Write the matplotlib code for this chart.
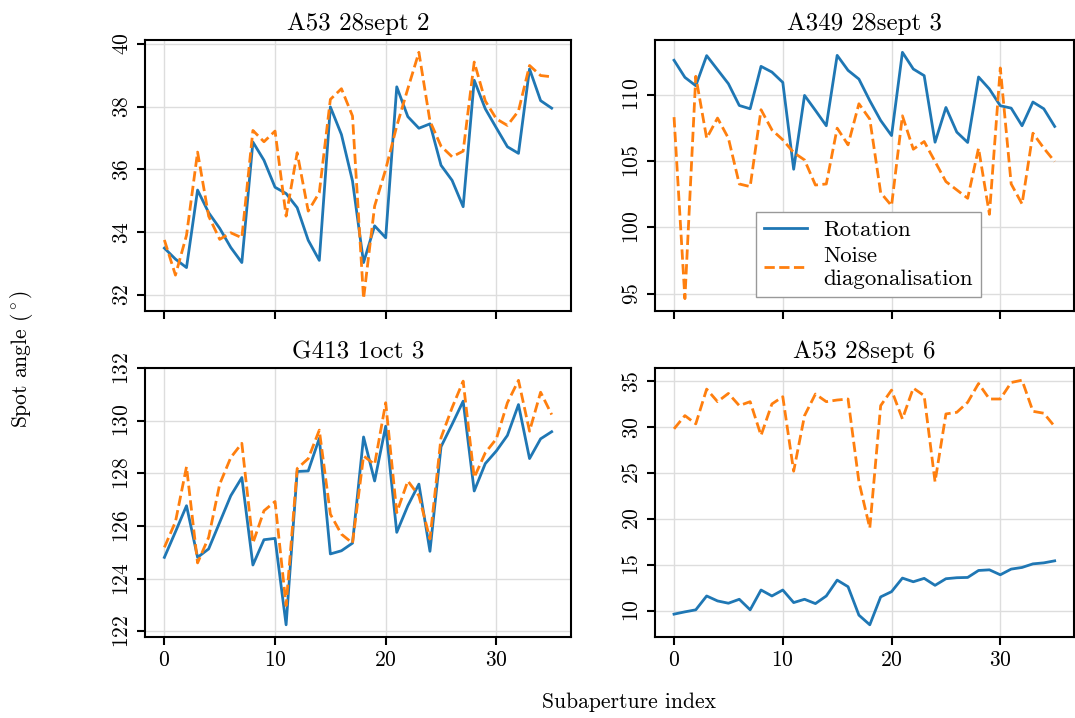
import numpy as np
import matplotlib
matplotlib.use("Agg")
import matplotlib.pyplot as plt

titles = ["A53 28sept 2", "A349 28sept 3", "G413 1oct 3", "A53 28sept 6"]

rot_a53_2 = [33.49, 33.14, 32.87, 35.34, 34.62, 34.12, 33.51, 33.03, 36.87, 36.29,
             35.43, 35.23, 34.78, 33.74, 33.10, 37.99, 37.11, 35.63, 33.03, 34.20,
             33.82, 38.63, 37.68, 37.31, 37.45, 36.13, 35.65, 34.81, 38.84, 37.93,
             37.32, 36.72, 36.51, 39.20, 38.19, 37.95]
noise_a53_2 = [33.75, 32.63, 33.90, 36.55, 34.51, 33.77, 33.98, 33.82, 37.24, 36.88,
               37.22, 34.51, 36.53, 34.67, 35.26, 38.23, 38.57, 37.70, 31.88, 34.83,
               36.00, 37.38, 38.57, 39.73, 37.54, 36.74, 36.40, 36.58, 39.42, 38.18,
               37.61, 37.40, 37.86, 39.31, 38.99, 38.95]

rot_a349_3 = [112.60, 111.31, 110.68, 112.95, 111.89, 110.83, 109.19, 108.94, 112.14, 111.71,
              110.93, 104.38, 109.95, 108.82, 107.66, 112.97, 111.84, 111.18, 109.55, 108.06,
              106.92, 113.20, 111.94, 111.44, 106.42, 109.04, 107.18, 106.40, 111.34, 110.43,
              109.17, 108.99, 107.66, 109.45, 108.94, 107.61]
noise_a349_3 = [108.31, 94.62, 111.39, 106.72, 108.24, 106.72, 103.27, 103.07, 108.87, 107.35,
                106.60, 105.64, 105.08, 103.19, 103.27, 107.48, 106.22, 109.32, 108.16, 102.61,
                101.63, 108.41, 105.89, 106.47, 104.96, 103.45, 102.82, 102.19, 105.97, 100.98,
                112.02, 103.27, 101.76, 107.10, 105.97, 104.96]

rot_g413_3 = [124.81, 125.78, 126.77, 124.81, 125.13, 126.14, 127.15, 127.84, 124.52, 125.48,
              125.53, 122.25, 128.07, 128.09, 129.33, 124.94, 125.06, 125.35, 129.38, 127.71,
              129.79, 125.76, 126.77, 127.59, 125.04, 129.01, 129.86, 130.74, 127.33, 128.37,
              128.85, 129.44, 130.61, 128.56, 129.31, 129.58]
noise_g413_3 = [125.19, 126.16, 128.25, 124.60, 125.57, 127.59, 128.60, 129.14, 125.35, 126.58,
                126.93, 122.98, 128.18, 128.56, 129.64, 126.45, 125.69, 125.35, 128.66, 128.34,
                130.68, 126.51, 127.71, 127.15, 125.51, 129.35, 130.49, 131.50, 127.84, 128.78,
                129.31, 130.68, 131.53, 129.60, 131.08, 130.23]

rot_a53_6 = [9.64, 9.89, 10.11, 11.62, 11.08, 10.83, 11.26, 10.11, 12.27, 11.62,
             12.27, 10.90, 11.26, 10.79, 11.62, 13.35, 12.63, 9.53, 8.48, 11.52,
             12.09, 13.57, 13.17, 13.54, 12.78, 13.50, 13.61, 13.64, 14.40, 14.47,
             13.93, 14.55, 14.73, 15.12, 15.23, 15.45]
noise_a53_6 = [29.84, 31.28, 30.38, 34.17, 32.80, 33.70, 32.37, 32.80, 29.12, 32.55,
               33.34, 25.22, 31.28, 33.63, 32.80, 32.98, 33.09, 24.07, 19.02, 32.37,
               34.06, 30.92, 34.28, 33.45, 24.07, 31.46, 31.64, 32.73, 34.78, 33.09,
               33.09, 34.89, 35.14, 31.75, 31.54, 30.09]

rotation = [rot_a53_2, rot_a349_3, rot_g413_3, rot_a53_6]
noise = [noise_a53_2, noise_a349_3, noise_g413_3, noise_a53_6]
yticks = [None, None, [122, 124, 126, 128, 130, 132], [10, 15, 20, 25, 30, 35]]

plt.rcParams['font.family'] = ['cmr10', 'DejaVu Serif']
plt.rcParams['mathtext.fontset'] = 'cm'
plt.rcParams['axes.formatter.use_mathtext'] = True

fig = plt.figure(figsize=(10.75, 7.18), dpi=100)
boxes = [
    [0.1349, 0.5669, 0.3963, 0.3774],
    [0.6093, 0.5669, 0.3895, 0.3774],
    [0.1349, 0.1128, 0.3963, 0.3747],
    [0.6093, 0.1128, 0.3895, 0.3747],
]

axes = []
for k, box in enumerate(boxes):
    ax = fig.add_axes(box)
    x = np.arange(len(rotation[k]))
    ax.plot(x, rotation[k], color='#1f77b4', lw=2, label='Rotation')
    ax.plot(x, noise[k], color='#ff7f0e', lw=2, ls='--', label='Noise\ndiagonalisation')
    ax.set_title(titles[k], fontsize=18, pad=7)
    ax.grid(True, color='#dddddd', lw=1)
    ax.set_axisbelow(True)
    for s in ax.spines.values():
        s.set_linewidth(1.5)
    ax.set_xticks([0, 10, 20, 30])
    if yticks[k] is not None:
        ax.set_yticks(yticks[k])
    ax.tick_params(axis='both', length=6, width=1.5, labelsize=15.5)
    ax.tick_params(axis='y', labelrotation=90)
    for lab in ax.get_yticklabels():
        lab.set_va('center')
    if k < 2:
        ax.tick_params(axis='x', labelbottom=False)
    axes.append(ax)

leg = axes[1].legend(loc='lower center', bbox_to_anchor=(0.51, 0.01), fontsize=16.5,
                     fancybox=False, edgecolor='#999999', framealpha=1,
                     handlelength=1.9, borderpad=0.35, labelspacing=0.3,
                     handletextpad=0.7)
leg.get_frame().set_linewidth(1)

fig.text(0.02, 0.5, 'Spot angle ($^\\circ$)', rotation=90, va='center', ha='center', fontsize=15.5)
fig.text(0.585, 0.022, 'Subaperture index', ha='center', va='center', fontsize=15.5)

fig.savefig('out.png', dpi=100)
